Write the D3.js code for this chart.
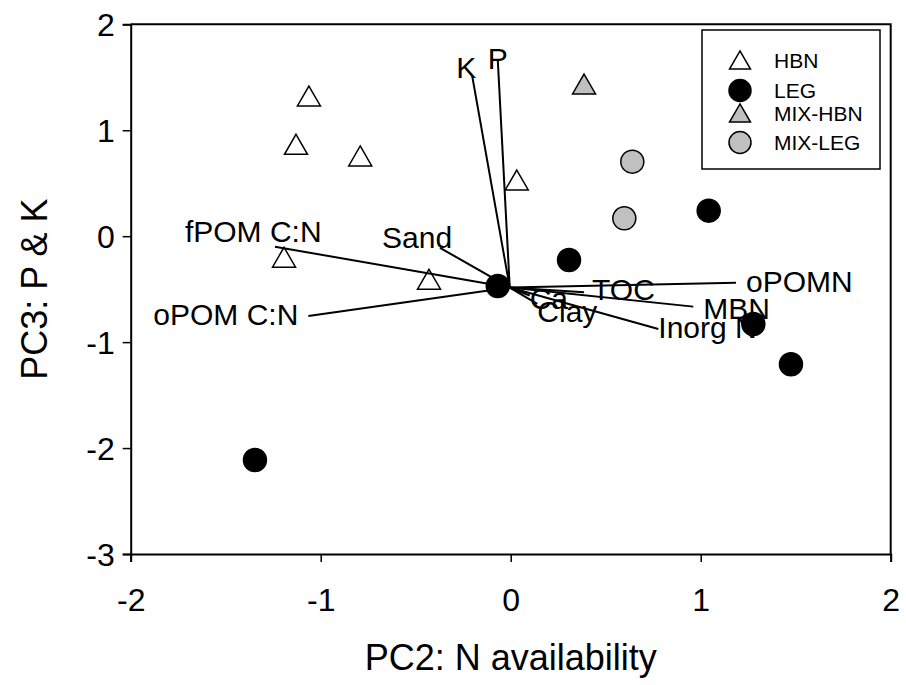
<!DOCTYPE html>
<html><head><meta charset="utf-8">
<script src="https://cdn.jsdelivr.net/npm/d3@7"></script>
<style>body{margin:0;background:#fff}svg{display:block}text{font-family:"Liberation Sans",Arial,sans-serif;fill:#000}</style>
</head><body>
<script>
// ---- data ----
const xTicks = [-2, -1, 0, 1, 2];
const yTicks = [-3, -2, -1, 0, 1, 2];
const xTitle = "PC2: N availability";
const yTitle = "PC3: P & K";

const groups = ["HBN", "LEG", "MIX-HBN", "MIX-LEG"];
const hbnX = [-1.062, -1.130, -0.792, 0.032, -1.193, -0.430];
const hbnY = [1.292, 0.836, 0.726, 0.499, -0.230, -0.438];
const legX = [-0.068, -1.346, 0.307, 1.042, 1.277, 1.475];
const legY = [-0.470, -2.113, -0.225, 0.241, -0.829, -1.209];
const mixHbnX = [0.386];
const mixHbnY = [1.405];
const mixLegX = [0.640, 0.598];
const mixLegY = [0.703, 0.169];

const vecOrigin = [-0.005, -0.485];
const vecNames = ["K", "P", "Sand", "fPOM C:N", "oPOM C:N", "TOC", "oPOMN", "MBN", "Inorg N", "Ca", "Clay"];
const vecX = [-0.202, -0.068, -0.372, -1.241, -1.065, 0.386, 1.186, 0.961, 0.777, 0.100, 0.140];
const vecY = [1.506, 1.663, -0.110, -0.099, -0.753, -0.530, -0.439, -0.665, -0.876, -0.560, -0.640];

// ---- layout (label placement relative to vector tips) ----
const labelLayout = [
  {anchor: "end", dx: 4, dy: 1},
  {anchor: "middle", dx: 0, dy: 9},
  {anchor: "start", dx: -58, dy: 0},
  {anchor: "start", dx: -90, dy: -5},
  {anchor: "end", dx: -10, dy: 9},
  {anchor: "start", dx: 8, dy: 8},
  {anchor: "start", dx: 10, dy: 9},
  {anchor: "start", dx: 10, dy: 12},
  {anchor: "start", dx: 0, dy: 9},
  {anchor: "start", dx: 0, dy: 13},
  {anchor: "start", dx: 0, dy: 18}
];

const W = 906, H = 685;
const m = {left: 130.7, right: 906 - 890.7, top: 24.3, bottom: 685 - 554};
const svg = d3.select("body").append("svg").attr("width", W).attr("height", H);

const x = d3.scaleLinear().domain([-2, 2]).range([m.left, W - m.right]);
const y = d3.scaleLinear().domain([-3, 2]).range([H - m.bottom, m.top]);

const fmt = d => String(d);
// axes
const xAxis = svg.append("g").attr("transform", `translate(0,${y(-3)})`)
  .call(d3.axisBottom(x).tickValues(xTicks).tickSize(8).tickPadding(26).tickFormat(fmt));
const yAxis = svg.append("g").attr("transform", `translate(${x(-2)},0)`)
  .call(d3.axisLeft(y).tickValues(yTicks).tickSize(8).tickPadding(8).tickFormat(fmt));
[xAxis, yAxis].forEach(g => {
  g.select(".domain").attr("stroke-width", 2).attr("stroke", "#000");
  g.selectAll(".tick line").attr("stroke-width", 1.5).attr("stroke", "#000");
  g.selectAll(".tick text").style("font-size", "32px").style("font-family", '"Liberation Sans", Arial, sans-serif');
});
yAxis.selectAll(".tick text").attr("dy", "0.35em");
xAxis.selectAll(".tick text").attr("dy", "0.71em");

// frame top & right
svg.append("path")
  .attr("d", `M${x(-2)},${y(2)}H${x(2)}V${y(-3)}`)
  .attr("fill", "none").attr("stroke", "#000").attr("stroke-width", 2);

// titles
svg.append("text").attr("x", (x(-2) + x(2)) / 2).attr("y", 670)
  .attr("text-anchor", "middle").style("font-size", "36px").text(xTitle);
svg.append("text").attr("transform", `translate(47,${(y(-3) + y(2)) / 2}) rotate(-90)`)
  .attr("text-anchor", "middle").style("font-size", "36px").text(yTitle);

// points
const triSize = 229;
const circR = 11.5;
function drawTri(g, xs, ys, fill) {
  g.selectAll(null).data(xs.map((v, i) => [v, ys[i]])).enter().append("path")
    .attr("d", d3.symbol(d3.symbolTriangle, triSize)())
    .attr("transform", d => `translate(${x(d[0])},${y(d[1])})`)
    .attr("fill", fill).attr("stroke", "#000").attr("stroke-width", 1.5);
}
function drawCirc(g, xs, ys, fill) {
  g.selectAll(null).data(xs.map((v, i) => [v, ys[i]])).enter().append("circle")
    .attr("cx", d => x(d[0])).attr("cy", d => y(d[1])).attr("r", circR)
    .attr("fill", fill).attr("stroke", "#000").attr("stroke-width", 1.5);
}
const pts = svg.append("g");
drawTri(pts, hbnX, hbnY, "none");
drawTri(pts, mixHbnX, mixHbnY, "#c0c0c0");
drawCirc(pts, mixLegX, mixLegY, "#c0c0c0");

// vectors
const vg = svg.append("g");
vecNames.forEach((n, i) => {
  vg.append("line")
    .attr("x1", x(vecOrigin[0])).attr("y1", y(vecOrigin[1]))
    .attr("x2", x(vecX[i])).attr("y2", y(vecY[i]))
    .attr("stroke", "#000").attr("stroke-width", 2);
  const L = labelLayout[i];
  vg.append("text").attr("x", x(vecX[i]) + L.dx).attr("y", y(vecY[i]) + L.dy)
    .attr("text-anchor", L.anchor).style("font-size", "30px").text(n);
});

drawCirc(svg.append("g"), legX, legY, "#000");

// legend
const lg = svg.append("g");
lg.append("rect").attr("x", 702).attr("y", 30).attr("width", 178).attr("height", 139)
  .attr("fill", "#fff").attr("stroke", "#000").attr("stroke-width", 1.5);
const legRows = [61, 90.5, 114, 142.5];
const legShape = ["tri", "circ", "tri", "circ"];
const legFill = ["#fff", "#000", "#c0c0c0", "#c0c0c0"];
groups.forEach((gname, i) => {
  if (legShape[i] === "tri") {
    lg.append("path").attr("d", d3.symbol(d3.symbolTriangle, 190)())
      .attr("transform", `translate(740,${legRows[i] + 2})`)
      .attr("fill", legFill[i]).attr("stroke", "#000").attr("stroke-width", 1.5);
  } else {
    lg.append("circle").attr("cx", 740).attr("cy", legRows[i]).attr("r", 11)
      .attr("fill", legFill[i]).attr("stroke", "#000").attr("stroke-width", 1.5);
  }
  lg.append("text").attr("x", 774).attr("y", legRows[i]).attr("dy", "0.35em")
    .style("font-size", "21px").text(gname);
});
</script>
</body></html>
